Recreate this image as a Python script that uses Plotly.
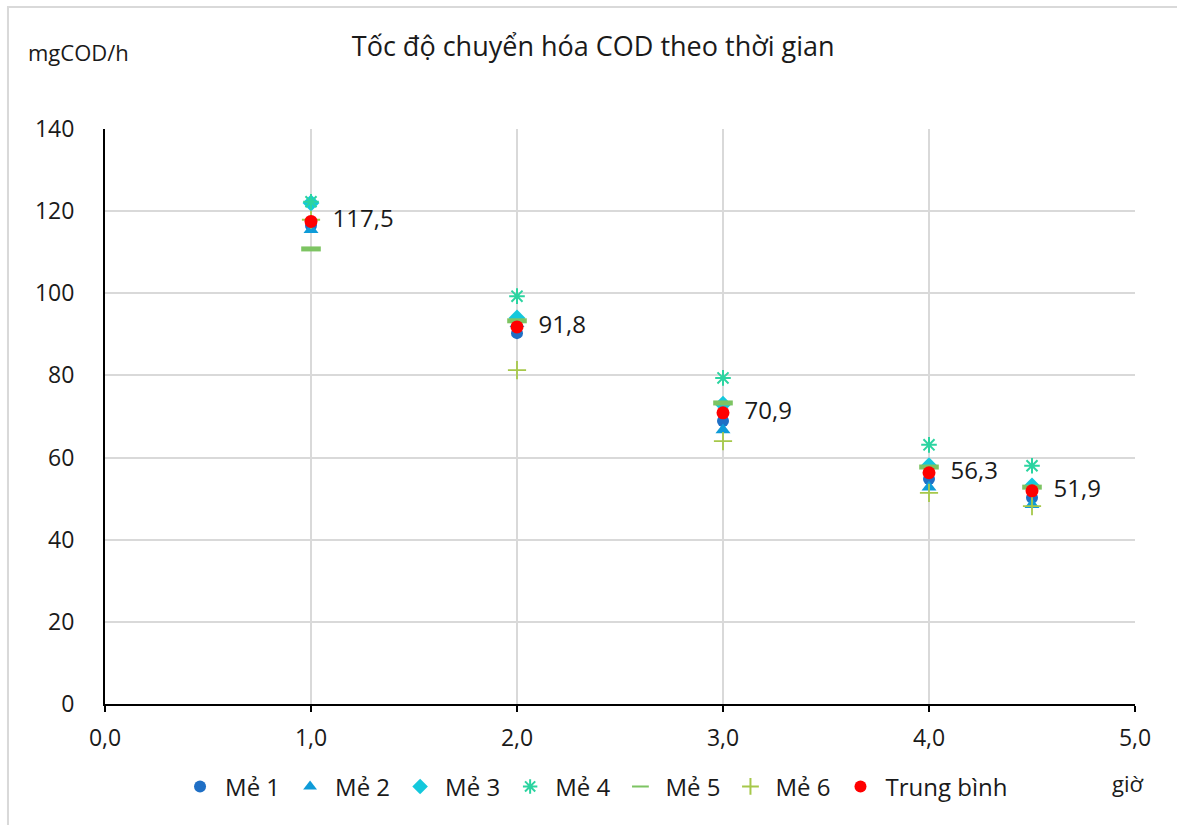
import plotly.graph_objects as go

hours = [1.0, 2.0, 3.0, 4.0, 4.5]
me1 = [116.5, 90.3, 68.9, 54.8, 50.2]
me2 = [115.5, 92.6, 66.7, 52.8, 48.5]
me3 = [122.0, 94.0, 73.0, 58.0, 53.1]
me4 = [122.3, 99.3, 79.4, 63.1, 58.0]
me5 = [110.8, 93.3, 73.3, 57.7, 52.8]
me6 = [117.9, 81.3, 64.0, 51.4, 48.2]
mean = [117.5, 91.8, 70.9, 56.3, 51.9]

series = [
    ("Mẻ 1", me1, dict(symbol="circle", size=12, color="#1F6FC5")),
    ("Mẻ 2", me2, dict(symbol="triangle-up", size=13, color="#0E9BD8")),
    ("Mẻ 3", me3, dict(symbol="diamond", size=13, color="#14C8DC")),
    ("Mẻ 4", me4, dict(symbol="asterisk-open", size=13, color="#2BD4A0", line=dict(width=2, color="#2BD4A0"))),
    ("Mẻ 5", me5, dict(symbol="line-ew-open", size=14, color="#7DC462", line=dict(width=5, color="#7DC462"))),
    ("Mẻ 6", me6, dict(symbol="cross-thin-open", size=13, color="#A6C84A", line=dict(width=1.8, color="#A6C84A"))),
]

FONT = "Open Sans, Liberation Sans, Arial, sans-serif"
fig = go.Figure()
for name, vals, mk in series:
    fig.add_trace(go.Scatter(x=hours, y=vals, mode="markers", name=name, marker=mk))

fig.add_trace(go.Scatter(
    x=hours, y=mean, mode="markers+text", name="Trung bình",
    marker=dict(symbol="circle", size=13, color="#FF0000"),
    text=["  " + f"{v:.1f}".replace(".", ",") for v in mean],
    textposition="middle right",
    textfont=dict(size=24, color="#1a1a1a", family=FONT),
))

fig.update_layout(
    width=1177, height=825,
    margin=dict(l=105, r=42, t=129, b=121),
    paper_bgcolor="white", plot_bgcolor="white",
    separators=",.",
    font=dict(family=FONT, size=23, color="#1a1a1a"),
    title=dict(text="Tốc độ chuyển hóa COD theo thời gian", x=0.504, xanchor="center",
               y=1 - 47 / 825, yanchor="middle", font=dict(size=27, family=FONT, color="#1a1a1a")),
    xaxis=dict(range=[0, 5], dtick=1, tickformat=".1f", showgrid=True, gridcolor="#D9D9D9", gridwidth=1.5,
               showline=True, linecolor="black", linewidth=2, ticks="outside", ticklen=6, tickcolor="black",
               tickwidth=2, zeroline=False, ticklabelstandoff=6),
    yaxis=dict(range=[0, 140], dtick=20, showgrid=True, gridcolor="#D9D9D9", gridwidth=1.5,
               showline=True, linecolor="black", linewidth=2, ticks="", zeroline=False,
               ticklabelstandoff=24),
    legend=dict(orientation="h", x=0.068, xanchor="left", y=-0.105, yanchor="top",
                font=dict(size=24, family=FONT), itemsizing="constant", traceorder="normal",
                itemwidth=40),
    showlegend=True,
)

fig.add_annotation(text="mgCOD/h", xref="paper", yref="paper", x=(26 - 105) / 1030, y=(704 - 52) / 575,
                   xanchor="left", yanchor="middle",
                   showarrow=False, font=dict(size=22, family=FONT))
fig.add_annotation(text="giờ", xref="paper", yref="paper", x=(1128 - 105) / 1030, y=(704 - 783) / 575,
                   xanchor="center", yanchor="middle",
                   showarrow=False, font=dict(size=22, family=FONT))

# chart border
fig.add_shape(type="rect", xref="paper", yref="paper", x0=-0.0942, y0=-0.23, x1=1.1, y1=1.212,
              line=dict(color="#D9D9D9", width=2), layer="below")

fig.write_html("out.html")
